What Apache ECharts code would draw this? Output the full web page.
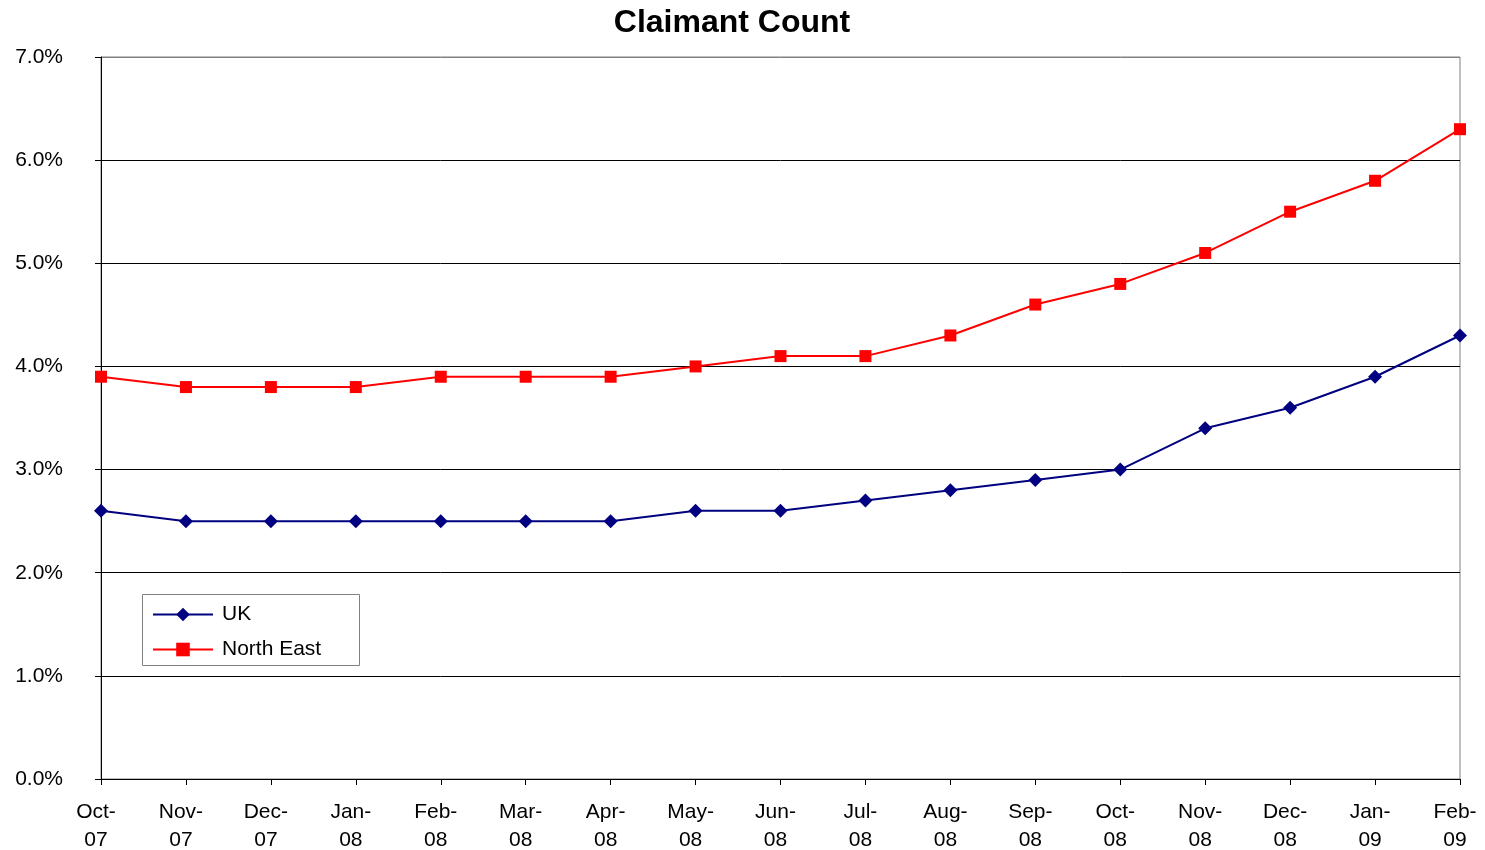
<!DOCTYPE html>
<html><head><meta charset="utf-8">
<script src="https://cdn.jsdelivr.net/npm/echarts@6/dist/echarts.min.js"></script>
<style>html,body{margin:0;padding:0;background:#fff}#c{width:1485px;height:850px}</style>
</head><body><div id="c"></div>
<script>
const categories = ['Oct-\n07','Nov-\n07','Dec-\n07','Jan-\n08','Feb-\n08','Mar-\n08','Apr-\n08','May-\n08','Jun-\n08','Jul-\n08','Aug-\n08','Sep-\n08','Oct-\n08','Nov-\n08','Dec-\n08','Jan-\n09','Feb-\n09'];
const ukValues = [2.6,2.5,2.5,2.5,2.5,2.5,2.5,2.6,2.6,2.7,2.8,2.9,3.0,3.4,3.6,3.9,4.3];
const northEastValues = [3.9,3.8,3.8,3.8,3.9,3.9,3.9,4.0,4.1,4.1,4.3,4.6,4.8,5.1,5.5,5.8,6.3];

const font = '"Liberation Sans", Arial, sans-serif';
const chart = echarts.init(document.getElementById('c'));
chart.setOption({
  animation: false,
  backgroundColor: '#fff',
  title: {
    text: 'Claimant Count', left: 727, top: 2, textAlign: 'center',
    textStyle: { fontFamily: font, fontSize: 32, fontWeight: 'bold', color: '#000' }
  },
  grid: { left: 101, right: 25, top: 57, bottom: 71, show: true, borderColor: '#808080', borderWidth: 1,
          outerBoundsMode: 'none', containLabel: false },
  graphic: [{
    type: 'rect', left: 142, top: 594, z: 10,
    shape: { width: 217, height: 71 },
    style: { fill: '#fff', stroke: '#808080', lineWidth: 1 }
  }],
  legend: {
    orient: 'vertical', left: 147, top: 599, z: 20,
    itemWidth: 60, itemHeight: 17, itemGap: 14,
    textStyle: { fontFamily: font, fontSize: 21, color: '#000', lineHeight: 21, padding: [0, 0, 0, 4] },
    data: ['UK', 'North East']
  },
  xAxis: {
    type: 'category', data: categories, boundaryGap: false,
    axisLine: { lineStyle: { color: '#000', width: 1 } },
    axisTick: { show: true, length: 6, inside: false, lineStyle: { color: '#000' } },
    axisLabel: { fontFamily: font, fontSize: 21, color: '#000', lineHeight: 28, margin: 19, interval: 0,
                 padding: [0, 10, 0, 0] },
    splitLine: { show: false }
  },
  yAxis: {
    type: 'value', min: 0, max: 7, interval: 1,
    axisLine: { show: true, lineStyle: { color: '#000', width: 1 } },
    axisTick: { show: true, length: 6, lineStyle: { color: '#000' } },
    axisLabel: { fontFamily: font, fontSize: 21, color: '#000', margin: 38, formatter: v => v.toFixed(1) + '%' },
    splitLine: { show: true, lineStyle: { color: ['#000','#000','#000','#000','#000','#000','#000','#808080'], width: 1 } }
  },
  series: [
    { name: 'UK', type: 'line', data: ukValues, symbol: 'diamond', symbolSize: 14,
      itemStyle: { color: '#000080' }, lineStyle: { color: '#000080', width: 2 } },
    { name: 'North East', type: 'line', data: northEastValues, symbol: 'rect', symbolSize: 12,
      itemStyle: { color: '#ff0000' }, lineStyle: { color: '#ff0000', width: 2 } }
  ]
});
</script></body></html>
